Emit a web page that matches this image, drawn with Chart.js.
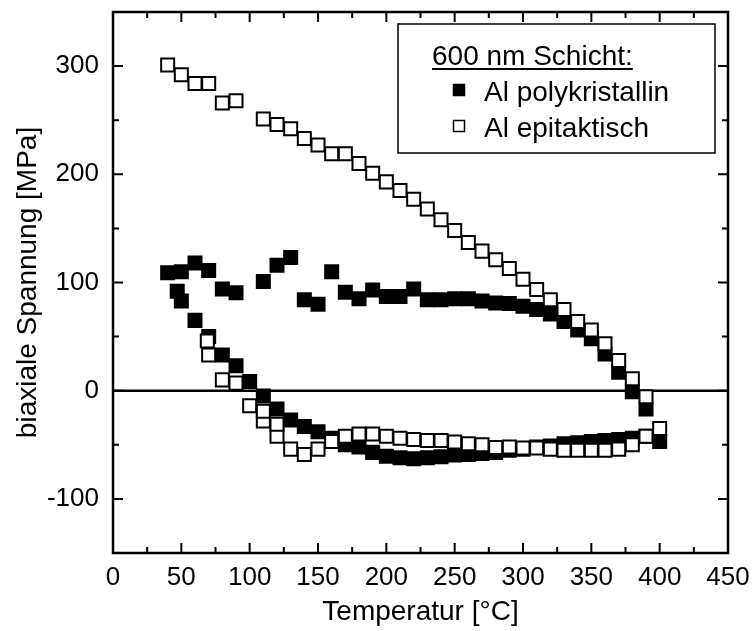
<!DOCTYPE html>
<html><head><meta charset="utf-8">
<script src="https://cdn.jsdelivr.net/npm/chart.js@4/dist/chart.umd.min.js"></script>
<style>html,body{margin:0;padding:0;background:#fff;overflow:hidden}</style>
</head><body>
<canvas id="c" width="754" height="631"></canvas>
<script>
// ---- data ----
const polyX = [40,50,60,70,80,90,110,120,130,140,150,160,170,180,190,200,210,220,230,240,250,260,270,280,290,300,310,320,330,340,350,360,370,380,390,
               400,390,380,370,360,350,340,330,320,310,300,290,280,270,260,250,240,230,220,210,200,190,180,170,160,150,140,130,120,110,100,90,80,70,60,50,47];
const polyY = [109,110,118,111,94,90.5,101,116,123,84,80,110,91,85,93,87,87,94,84,84,85,85,83,81,80.5,78,75,71,64,56,48,34,17,-1,-17,
               -47,-42,-44,-45,-46,-47,-48,-49,-51,-52,-54,-55,-57,-58,-59,-59.5,-61,-62,-63,-62,-60.5,-57,-52,-50,-44,-38,-33,-27,-17,-5,8.6,23,33,50,65,83,92];
const epiX = [40,50,60,70,80,90,110,120,130,140,150,160,170,180,190,200,210,220,230,240,250,260,270,280,290,300,310,320,330,340,350,360,370,380,390,
              400,390,380,370,360,350,340,330,320,310,300,290,280,270,260,250,240,230,220,210,200,190,180,170,160,150,140,130,120,120,110,110,100,90,80,70,69];
const epiY = [301,292,284,284,266,268,251,246,242,233,227,219,219,210,201,193,185,177,168,158,148,137,129,121,113,103,93.5,84,75,64,56,43.5,28,11,-5.5,
              -35,-42,-50,-54,-55,-55,-55,-55,-54,-53,-53,-52,-52.5,-50,-49,-47.5,-46,-46,-45,-44,-42,-40,-40,-42,-47,-54,-59,-54,-42,-31,-28,-19,-14,7,10,33,46];
const xTickValues = [0,50,100,150,200,250,300,350,400,450];
const xMinorValues = [25,75,125,175,225,275,325,375,425];
const yTickValues = [-100,0,100,200,300];
const yMinorValues = [-150,-50,50,150,250];
const seriesNames = ['Al polykristallin','Al epitaktisch'];
const legendTitle = '600 nm Schicht:';
const xTitle = 'Temperatur [°C]';
const yTitle = 'biaxiale Spannung [MPa]';

const FONT = "'Liberation Sans', Arial, sans-serif";
const toPts = (xs, ys) => xs.map((x,i)=>({x:x, y:ys[i]}));

const framePlugin = {
  id:'frame',
  beforeDatasetsDraw(chart){
    const {ctx, chartArea:a, scales:{y}} = chart;
    const y0 = y.getPixelForValue(0);
    ctx.save();
    ctx.strokeStyle='#000'; ctx.lineWidth=2.5;
    ctx.beginPath(); ctx.moveTo(a.left,y0); ctx.lineTo(a.right,y0); ctx.stroke();
    ctx.restore();
  },
  afterDatasetsDraw(chart){
    const {ctx, chartArea:a, scales:{x,y}} = chart;
    ctx.save();
    ctx.strokeStyle='#000';
    ctx.lineWidth=2;
    const major=10, minor=6;
    ctx.beginPath();
    xTickValues.forEach(v=>{const p=x.getPixelForValue(v); ctx.moveTo(p,a.bottom); ctx.lineTo(p,a.bottom-major); ctx.moveTo(p,a.top); ctx.lineTo(p,a.top+major);});
    xMinorValues.forEach(v=>{const p=x.getPixelForValue(v); ctx.moveTo(p,a.bottom); ctx.lineTo(p,a.bottom-minor); ctx.moveTo(p,a.top); ctx.lineTo(p,a.top+minor);});
    yTickValues.forEach(v=>{const p=y.getPixelForValue(v); ctx.moveTo(a.left,p); ctx.lineTo(a.left+major,p); ctx.moveTo(a.right,p); ctx.lineTo(a.right-major,p);});
    yMinorValues.forEach(v=>{const p=y.getPixelForValue(v); ctx.moveTo(a.left,p); ctx.lineTo(a.left+minor,p); ctx.moveTo(a.right,p); ctx.lineTo(a.right-minor,p);});
    ctx.stroke();
    ctx.lineWidth=2.5;
    ctx.strokeRect(a.left,a.top,a.right-a.left,a.bottom-a.top);
    ctx.restore();
  },
  afterDraw(chart){
    const {ctx, chartArea:a} = chart;
    const bx=a.right-330, by=a.top+12, bw=317, bh=129;
    ctx.save();
    ctx.fillStyle='#fff'; ctx.fillRect(bx,by,bw,bh);
    ctx.strokeStyle='#000'; ctx.lineWidth=1.5; ctx.strokeRect(bx,by,bw,bh);
    ctx.fillStyle='#000';
    ctx.font='28px '+FONT; ctx.textBaseline='alphabetic'; ctx.textAlign='left';
    const tx=bx+34;
    ctx.fillText(legendTitle, tx, by+41);
    const tw=ctx.measureText(legendTitle).width;
    ctx.lineWidth=2; ctx.beginPath(); ctx.moveTo(tx,by+45); ctx.lineTo(tx+tw,by+45); ctx.stroke();
    const ds=chart.data.datasets;
    [0,1].forEach((di,k)=>{
      const d=ds[di];
      const cy=by+66+k*36;
      const mx=bx+61, s=11;
      ctx.fillStyle=d.pointBackgroundColor; ctx.strokeStyle='#000'; ctx.lineWidth=1.5;
      ctx.fillRect(mx-s/2,cy-s/2,s,s); ctx.strokeRect(mx-s/2,cy-s/2,s,s);
      ctx.fillStyle='#000';
      ctx.fillText(d.label, bx+86, cy+11);
    });
    ctx.restore();
  }
};

new Chart(document.getElementById('c'), {
  type:'scatter',
  data:{datasets:[
    {label:seriesNames[0], data:toPts(polyX,polyY), pointStyle:'rect', pointRadius:9.2, pointHoverRadius:9.2,
     pointBackgroundColor:'#000', pointBorderColor:'#000', pointBorderWidth:2, showLine:false, order:1},
    {label:seriesNames[1], data:toPts(epiX,epiY), pointStyle:'rect', pointRadius:9.2, pointHoverRadius:9.2,
     pointBackgroundColor:'#fff', pointBorderColor:'#000', pointBorderWidth:2, showLine:false, order:0}
  ]},
  options:{
    responsive:false, animation:false, devicePixelRatio:1,
    layout:{padding:{top:12,right:26,left:0,bottom:0}, autoPadding:false},
    plugins:{legend:{display:false}, tooltip:{enabled:false}},
    scales:{
      x:{type:'linear', min:0, max:450,
         afterFit(s){s.height=78; s.paddingLeft=0; s.paddingRight=0;},
         afterBuildTicks(s){s.ticks=xTickValues.map(v=>({value:v}));},
         grid:{display:false, drawTicks:false}, border:{display:false},
         ticks:{color:'#000', font:{family:FONT,size:26}, padding:9, maxRotation:0, autoSkip:false},
         title:{display:true, text:xTitle, color:'#000', font:{family:FONT,size:28}, padding:{top:0,bottom:2}}},
      y:{type:'linear', min:-150, max:350,
         afterFit(s){s.width=113; s.paddingTop=0; s.paddingBottom=0;},
         afterBuildTicks(s){s.ticks=yTickValues.map(v=>({value:v}));},
         grid:{display:false, drawTicks:false}, border:{display:false},
         ticks:{color:'#000', font:{family:FONT,size:26}, padding:14, autoSkip:false},
         title:{display:true, text:yTitle, color:'#000', font:{family:FONT,size:28}, padding:{top:11,bottom:0}}}
    }
  },
  plugins:[framePlugin]
});
</script>
</body></html>
